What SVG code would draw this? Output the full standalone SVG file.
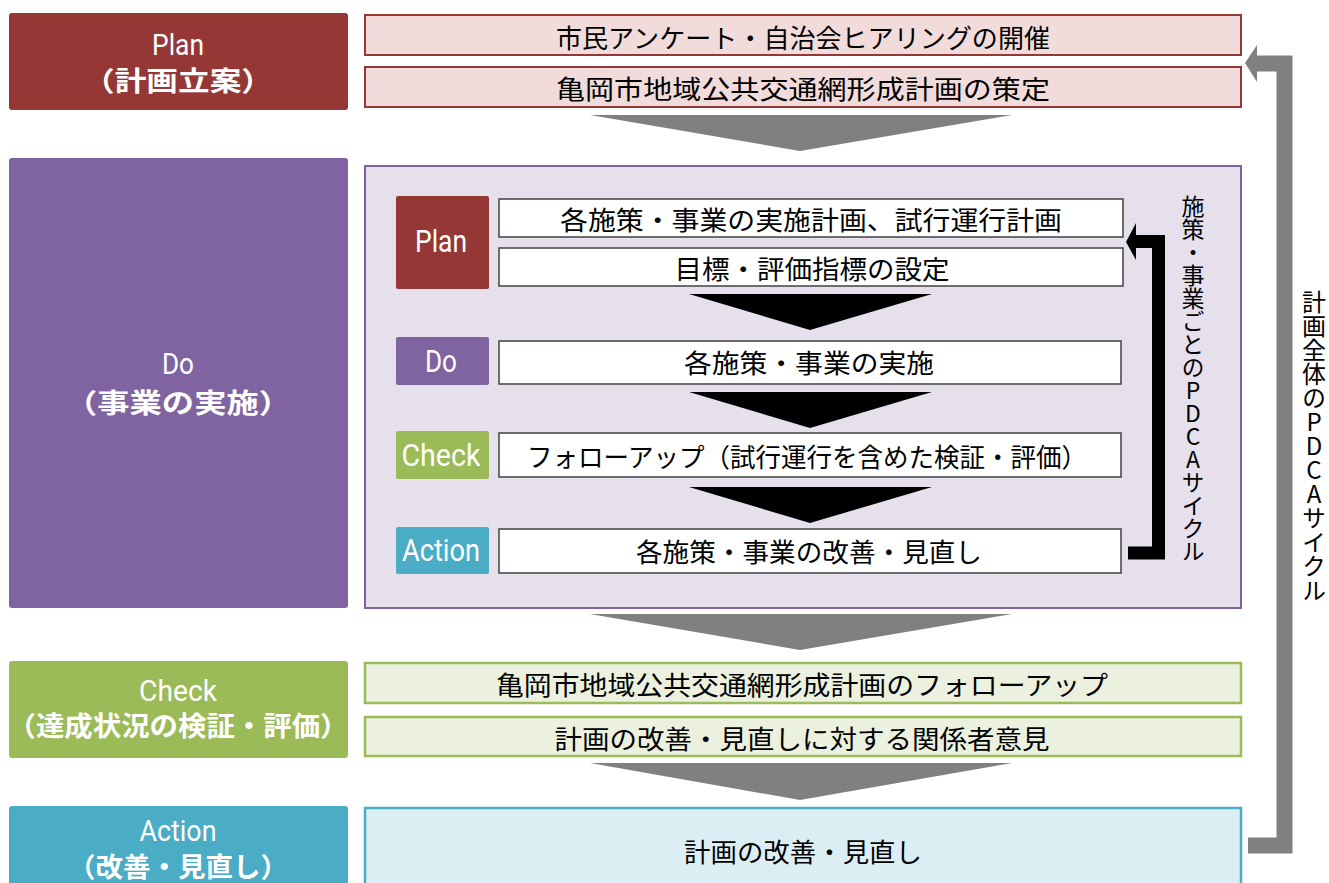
<svg xmlns="http://www.w3.org/2000/svg" width="1329" height="883" viewBox="0 0 1329 883">
<style>
.lbl{fill:#fff;font-family:"Noto Sans CJK JP",sans-serif;font-weight:bold;text-anchor:middle;dominant-baseline:central}
.en{fill:#fff;font-family:"Roboto","Liberation Sans",sans-serif;font-weight:400;text-anchor:middle;dominant-baseline:central}
.t{fill:#000;font-family:"Noto Sans CJK JP",sans-serif;font-size:26px;text-anchor:middle;dominant-baseline:central}
.wb{fill:#fff;stroke:#404040;stroke-width:1.5}
.vt{fill:#000;font-family:"Noto Sans CJK JP",sans-serif;writing-mode:vertical-rl;text-orientation:upright}
</style>
<rect width="1329" height="883" fill="#fff"/>

<g id="plan">
<rect x="9" y="13" width="339" height="97" rx="3" fill="#953735"/>
<text class="en" x="178" y="44" font-size="30" textLength="52" lengthAdjust="spacingAndGlyphs">Plan</text>
<text class="lbl" x="178" y="79" font-size="27" textLength="190" lengthAdjust="spacingAndGlyphs">（計画立案）</text>
<rect x="365" y="15" width="876" height="40" fill="#f2dcdb" stroke="#953735" stroke-width="2"/>
<text class="t" x="803" y="36" textLength="494" lengthAdjust="spacingAndGlyphs">市民アンケート・自治会ヒアリングの開催</text>
<rect x="365" y="67" width="876" height="40" fill="#f2dcdb" stroke="#953735" stroke-width="2"/>
<text class="t" x="803" y="87" textLength="494" lengthAdjust="spacingAndGlyphs">亀岡市地域公共交通網形成計画の策定</text>
</g>

<g id="do">
<rect x="9" y="158" width="339" height="450" rx="3" fill="#8064a2"/>
<text class="en" x="178" y="363" font-size="30" textLength="32" lengthAdjust="spacingAndGlyphs">Do</text>
<text class="lbl" x="178" y="401" font-size="27" textLength="226" lengthAdjust="spacingAndGlyphs">（事業の実施）</text>
<rect x="365" y="166" width="876" height="442" fill="#e5e0ec" stroke="#8064a2" stroke-width="2"/>
</g>

<g id="inner-plan">
<rect x="396" y="196" width="93" height="93" rx="2" fill="#953735"/>
<text class="en" x="441" y="241" font-size="31" font-weight="500" textLength="52" lengthAdjust="spacingAndGlyphs">Plan</text>
<rect class="wb" x="499" y="199" width="624" height="38"/>
<text class="t" x="811" y="218" font-size="27" textLength="502" lengthAdjust="spacingAndGlyphs">各施策・事業の実施計画、試行運行計画</text>
<rect class="wb" x="499" y="248" width="624" height="38"/>
<text class="t" x="812" y="267" font-size="27" textLength="275" lengthAdjust="spacingAndGlyphs">目標・評価指標の設定</text>
</g>

<g id="inner-do">
<rect x="396" y="337" width="93" height="48" rx="2" fill="#8064a2"/>
<text class="en" x="441" y="361" font-size="31" font-weight="500" textLength="32" lengthAdjust="spacingAndGlyphs">Do</text>
<rect class="wb" x="499" y="341" width="622" height="43"/>
<text class="t" x="809" y="361" font-size="27" textLength="250" lengthAdjust="spacingAndGlyphs">各施策・事業の実施</text>
</g>

<g id="inner-check">
<rect x="396" y="431" width="93" height="48" rx="2" fill="#9bbb59"/>
<text class="en" x="441" y="455" font-size="31" font-weight="500" textLength="79" lengthAdjust="spacingAndGlyphs">Check</text>
<rect class="wb" x="499" y="433" width="622" height="44"/>
<text class="t" x="807" y="455" font-size="27" textLength="560" lengthAdjust="spacingAndGlyphs">フォローアップ（試行運行を含めた検証・評価）</text>
</g>

<g id="inner-action">
<rect x="396" y="527" width="93" height="47" rx="2" fill="#4bacc6"/>
<text class="en" x="441" y="550" font-size="31" font-weight="500" textLength="78" lengthAdjust="spacingAndGlyphs">Action</text>
<rect class="wb" x="499" y="529" width="622" height="44"/>
<text class="t" x="809" y="550" font-size="27" textLength="346" lengthAdjust="spacingAndGlyphs">各施策・事業の改善・見直し</text>
</g>

<g id="check">
<rect x="9" y="661" width="339" height="97" rx="3" fill="#9bbb59"/>
<text class="en" x="178" y="690" font-size="30" textLength="78" lengthAdjust="spacingAndGlyphs">Check</text>
<text class="lbl" x="178" y="724" font-size="27" textLength="341" lengthAdjust="spacingAndGlyphs">（達成状況の検証・評価）</text>
<rect x="365" y="663" width="876" height="40" fill="#ebf1de" stroke="#9bbb59" stroke-width="2.5"/>
<text class="t" x="802" y="683" textLength="612" lengthAdjust="spacingAndGlyphs">亀岡市地域公共交通網形成計画のフォローアップ</text>
<rect x="365" y="717" width="876" height="39" fill="#ebf1de" stroke="#9bbb59" stroke-width="2.5"/>
<text class="t" x="802" y="737" textLength="495" lengthAdjust="spacingAndGlyphs">計画の改善・見直しに対する関係者意見</text>
</g>

<g id="action">
<rect x="9" y="806" width="339" height="90" rx="3" fill="#4bacc6"/>
<text class="en" x="178" y="830" font-size="30" textLength="77" lengthAdjust="spacingAndGlyphs">Action</text>
<text class="lbl" x="178" y="865" font-size="27" textLength="220" lengthAdjust="spacingAndGlyphs">（改善・見直し）</text>
<rect x="365" y="808" width="876" height="90" fill="#dbeef4" stroke="#4bacc6" stroke-width="2.5"/>
<text class="t" x="803" y="850" textLength="238" lengthAdjust="spacingAndGlyphs">計画の改善・見直し</text>
</g>

<g id="connectors">
<polygon points="590,115 1012,115 800,151" fill="#808080"/>
<polygon points="590,614 1012,614 800,650" fill="#808080"/>
<polygon points="590,763 1012,763 800,800" fill="#808080"/>
<polygon points="689,294 932,294 810,330" fill="#000"/>
<polygon points="689,392 932,392 810,428" fill="#000"/>
<polygon points="689,487 932,487 810,523" fill="#000"/>
<path d="M1128,553 H1158.5 V241.5 H1135" fill="none" stroke="#000" stroke-width="13"/>
<polygon points="1126,242 1136,223 1136,260" fill="#000"/>
<path d="M1248,845.5 H1284.5 V63.5 H1255" fill="none" stroke="#808080" stroke-width="16"/>
<polygon points="1245,63 1257,45 1257,82" fill="#808080"/>
</g>

<g id="labels">
<text class="vt" x="1193" y="195" font-size="23">施策・事業ごとのPDCAサイクル</text>
<text class="vt" x="1314" y="290" font-size="24">計画全体のPDCAサイクル</text>
</g>
</svg>
